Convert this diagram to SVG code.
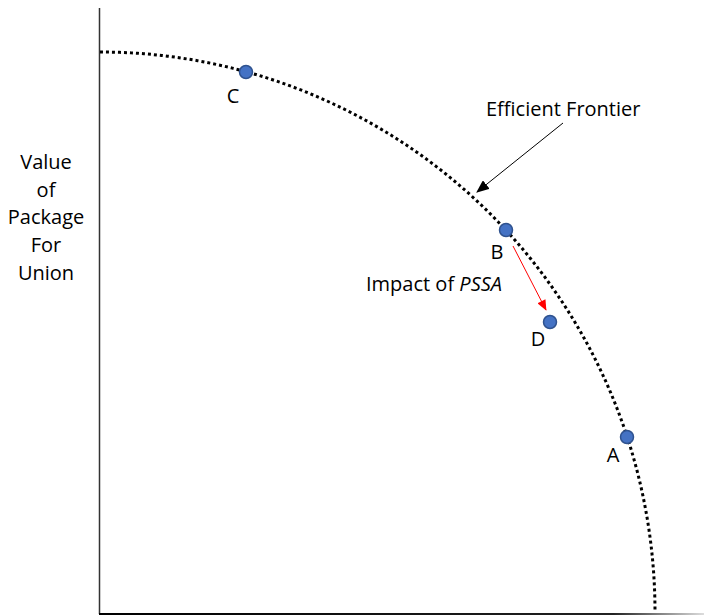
<svg xmlns="http://www.w3.org/2000/svg" width="704" height="616" viewBox="0 0 704 616">
<defs>
<style>
.t{font-family:"Open Sans","Liberation Sans",sans-serif;font-size:20px;fill:#000}
.pt{fill:#4472C4;stroke:#2F528F;stroke-width:1.5}
</style>
<linearGradient id="ax" x1="99" y1="0" x2="704" y2="0" gradientUnits="userSpaceOnUse">
<stop offset="0" stop-color="#000"/>
<stop offset="0.85" stop-color="#222"/>
<stop offset="1" stop-color="#ddd"/>
</linearGradient>
<marker id="ab" viewBox="0 0 12 10" refX="11" refY="5" markerWidth="13" markerHeight="11" markerUnits="userSpaceOnUse" orient="auto"><path d="M0,0L12,5L0,10z" fill="#000"/></marker>
<marker id="ar" viewBox="0 0 12 10" refX="11" refY="5" markerWidth="12" markerHeight="9" markerUnits="userSpaceOnUse" orient="auto"><path d="M0,0L12,5L0,10z" fill="#f00"/></marker>
</defs>
<rect width="704" height="616" fill="#fff"/>
<g id="axes">
<line x1="99.5" y1="8" x2="99.5" y2="614" stroke="#333" stroke-width="1.5"/>
<line x1="99" y1="614" x2="704" y2="614" stroke="url(#ax)" stroke-width="2"/>
</g>
<g id="frontier">
<path d="M100,52 A555,560 0 0 1 655,612" fill="none" stroke="#000" stroke-width="3" stroke-dasharray="3 3"/>
</g>
<g id="connectors">
<line x1="563" y1="123" x2="477" y2="192" stroke="#000" stroke-width="1" marker-end="url(#ab)"/>
<line x1="513" y1="246" x2="546" y2="310" stroke="#f00" stroke-width="1" marker-end="url(#ar)"/>
</g>
<g id="y-label">
<text class="t" text-anchor="middle" x="46" y="169">Value</text>
<text class="t" text-anchor="middle" x="46" y="197">of</text>
<text class="t" text-anchor="middle" x="46" y="224">Package</text>
<text class="t" text-anchor="middle" x="46" y="252">For</text>
<text class="t" text-anchor="middle" x="46" y="280">Union</text>
</g>
<g id="label-frontier"><text class="t" x="486" y="116">Efficient Frontier</text></g>
<g id="node-C"><circle class="pt" cx="246" cy="72" r="6.5"/><text class="t" text-anchor="middle" x="233" y="103">C</text></g>
<g id="node-B"><circle class="pt" cx="506" cy="230" r="6.5"/><text class="t" text-anchor="middle" x="497" y="259">B</text></g>
<g id="node-D"><circle class="pt" cx="550" cy="322" r="6.5"/><text class="t" text-anchor="middle" x="538" y="346">D</text></g>
<g id="node-A"><circle class="pt" cx="627" cy="437" r="6.5"/><text class="t" text-anchor="middle" x="613" y="462">A</text></g>
<g id="label-impact"><text class="t" x="366" y="291">Impact of <tspan font-style="italic">PSSA</tspan></text></g>
</svg>
